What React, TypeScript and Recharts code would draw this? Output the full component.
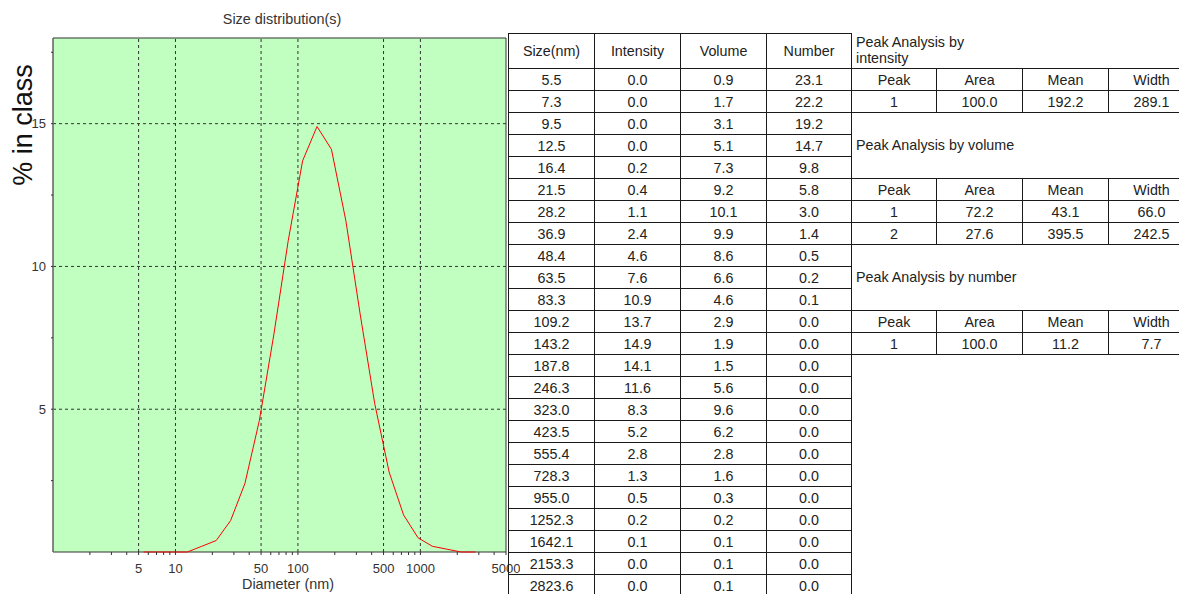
import React from 'react';
import {
  LineChart,
  Line,
  XAxis,
  YAxis,
  ReferenceArea,
  ReferenceLine,
} from 'recharts';

// size classes (nm) and the three distributions (%)
const sizes = [
  5.5, 7.3, 9.5, 12.5, 16.4, 21.5, 28.2, 36.9, 48.4, 63.5, 83.3, 109.2, 143.2,
  187.8, 246.3, 323.0, 423.5, 555.4, 728.3, 955.0, 1252.3, 1642.1, 2153.3, 2823.6,
];
const intensity = [
  0.0, 0.0, 0.0, 0.0, 0.2, 0.4, 1.1, 2.4, 4.6, 7.6, 10.9, 13.7, 14.9, 14.1, 11.6,
  8.3, 5.2, 2.8, 1.3, 0.5, 0.2, 0.1, 0.0, 0.0,
];
const volume = [
  0.9, 1.7, 3.1, 5.1, 7.3, 9.2, 10.1, 9.9, 8.6, 6.6, 4.6, 2.9, 1.9, 1.5, 5.6, 9.6,
  6.2, 2.8, 1.6, 0.3, 0.2, 0.1, 0.1, 0.1,
];
const numberDist = [
  23.1, 22.2, 19.2, 14.7, 9.8, 5.8, 3.0, 1.4, 0.5, 0.2, 0.1, 0.0, 0.0, 0.0, 0.0,
  0.0, 0.0, 0.0, 0.0, 0.0, 0.0, 0.0, 0.0, 0.0,
];

const tableHeaders = ['Size(nm)', 'Intensity', 'Volume', 'Number'];
const peakHeaders = ['Peak', 'Area', 'Mean', 'Width'];

const intensityPeaks = [[1, 100.0, 192.2, 289.1]];
const volumePeaks = [
  [1, 72.2, 43.1, 66.0],
  [2, 27.6, 395.5, 242.5],
];
const numberPeaks = [[1, 100.0, 11.2, 7.7]];

const xMajorTicks = [5, 10, 50, 100, 500, 1000, 5000];
const xMinorTicks = [
  2, 3, 4, 6, 7, 8, 9, 20, 30, 40, 60, 70, 80, 90, 200, 300, 400, 600, 700, 800,
  900, 2000, 3000, 4000,
];
const xGridLines = [5, 10, 50, 100, 500, 1000];
const yTicks = [2.5, 5, 7.5, 10, 12.5, 15, 17.5];
const yGridLines = [5, 10, 15];

const chartData = sizes.map((s, i) => ({ size: s, value: intensity[i] }));
const xTicks = [...xMajorTicks, ...xMinorTicks].sort((a, b) => a - b);

const FONT = '"Liberation Sans", Arial, sans-serif';
const TEXT = '#222';
const BORDER = '#1a1a1a';
const TABLE_FS = 14.3;

// table geometry
const colX = [508, 594, 680, 766, 851];
const peakColX = [851, 936, 1022, 1108, 1194];
const headTop = 33;
const headH = 35;
const rowH = 22;
const rowTop = (i: number) => headTop + headH + rowH * i;

function Cell({
  x,
  y,
  w,
  h,
  children,
}: {
  x: number;
  y: number;
  w: number;
  h: number;
  children?: React.ReactNode;
}) {
  return (
    <div
      style={{
        position: 'absolute',
        left: x,
        top: y,
        width: w + 1,
        height: h + 1,
        boxSizing: 'border-box',
        border: `1px solid ${BORDER}`,
        display: 'flex',
        alignItems: 'center',
        justifyContent: 'center',
        fontSize: TABLE_FS,
        color: TEXT,
      }}
    >
      {children}
    </div>
  );
}

function PeakTable({ top, rows }: { top: number; rows: number[][] }) {
  const cells: React.ReactNode[] = [];
  peakHeaders.forEach((h, c) =>
    cells.push(
      <Cell
        key={`h${c}`}
        x={peakColX[c]}
        y={rowTop(top)}
        w={peakColX[c + 1] - peakColX[c]}
        h={rowH}
      >
        {h}
      </Cell>,
    ),
  );
  rows.forEach((r, ri) =>
    r.forEach((v, c) =>
      cells.push(
        <Cell
          key={`r${ri}c${c}`}
          x={peakColX[c]}
          y={rowTop(top + 1 + ri)}
          w={peakColX[c + 1] - peakColX[c]}
          h={rowH}
        >
          {c === 0 ? String(v) : v.toFixed(1)}
        </Cell>,
      ),
    ),
  );
  return <>{cells}</>;
}

function Caption({ y, children }: { y: number; children: React.ReactNode }) {
  return (
    <div
      style={{
        position: 'absolute',
        left: 856,
        top: y,
        height: rowH,
        display: 'flex',
        alignItems: 'center',
        fontSize: TABLE_FS,
        color: TEXT,
        whiteSpace: 'nowrap',
      }}
    >
      {children}
    </div>
  );
}

export default function App() {
  const columns = [sizes, intensity, volume, numberDist];
  return (
    <div
      style={{
        position: 'absolute',
        left: 0,
        top: 0,
        width: 1179,
        height: 594,
        overflow: 'hidden',
        background: '#fff',
        fontFamily: FONT,
      }}
    >
      <div
        style={{
          position: 'absolute',
          left: 180,
          top: 11,
          width: 204,
          textAlign: 'center',
          fontSize: 14.4,
          color: '#333',
        }}
      >
        Size distribution(s)
      </div>
      <div
        style={{
          position: 'absolute',
          left: 186,
          top: 576,
          width: 204,
          textAlign: 'center',
          fontSize: 14.4,
          color: '#333',
        }}
      >
        Diameter (nm)
      </div>

      <div style={{ position: 'absolute', left: 0, top: 0 }}>
        <LineChart
          width={520}
          height={594}
          data={chartData}
          margin={{ top: 38, right: 14, bottom: 0, left: 0 }}
          style={{ overflow: 'visible' }}
        >
          <XAxis
            dataKey="size"
            type="number"
            scale="log"
            domain={[1, 5000]}
            ticks={xTicks}
            interval={0}
            height={42}
            tickSize={3}
            tickMargin={9}
            tickFormatter={(v: number) =>
              xMajorTicks.includes(v) ? String(v) : ''
            }
            tick={{ fontSize: 13, fill: '#333', fontFamily: FONT }}
            axisLine={false}
            tickLine={{ stroke: '#333' }}
          />
          <YAxis
            type="number"
            domain={[0, 18]}
            ticks={yTicks}
            interval={0}
            width={53}
            tickSize={2}
            tickMargin={5}
            tickFormatter={(v: number) => (v % 5 === 0 ? String(v) : '')}
            tick={{ fontSize: 13, fill: '#333', fontFamily: FONT }}
            axisLine={{ stroke: '#777' }}
            tickLine={{ stroke: '#333' }}
          />
          <ReferenceArea
            x1={1}
            x2={5000}
            y1={0}
            y2={18}
            fill="#c0ffc0"
            fillOpacity={1}
            stroke="#333"
            strokeWidth={1}
          />
          {xGridLines.map((v) => (
            <ReferenceLine
              key={`x${v}`}
              x={v}
              stroke="#333"
              strokeDasharray="3 3"
            />
          ))}
          {yGridLines.map((v) => (
            <ReferenceLine
              key={`y${v}`}
              y={v}
              stroke="#333"
              strokeDasharray="3 3"
            />
          ))}
          <Line
            type="linear"
            dataKey="value"
            stroke="#ff0000"
            strokeWidth={1}
            dot={false}
            isAnimationActive={false}
          />
        </LineChart>
      </div>

      <div
        style={{
          position: 'absolute',
          left: 23,
          top: 125,
          transform: 'translate(-50%, -50%) rotate(-90deg)',
          fontSize: 27,
          color: '#111',
          whiteSpace: 'nowrap',
        }}
      >
        % in class
      </div>

      {/* size distribution table */}
      {tableHeaders.map((h, c) => (
        <Cell
          key={`th${c}`}
          x={colX[c]}
          y={headTop}
          w={colX[c + 1] - colX[c]}
          h={headH}
        >
          {h}
        </Cell>
      ))}
      {sizes.map((_, r) =>
        columns.map((col, c) => (
          <Cell
            key={`td${r}-${c}`}
            x={colX[c]}
            y={rowTop(r)}
            w={colX[c + 1] - colX[c]}
            h={rowH}
          >
            {col[r].toFixed(1)}
          </Cell>
        )),
      )}

      {/* peak analysis */}
      <div
        style={{
          position: 'absolute',
          left: 856,
          top: 34,
          width: 125,
          fontSize: TABLE_FS,
          lineHeight: '16px',
          color: TEXT,
        }}
      >
        Peak Analysis by intensity
      </div>
      <PeakTable top={0} rows={intensityPeaks} />
      <Caption y={rowTop(3)}>Peak Analysis by volume</Caption>
      <PeakTable top={5} rows={volumePeaks} />
      <Caption y={rowTop(9)}>Peak Analysis by number</Caption>
      <PeakTable top={11} rows={numberPeaks} />
    </div>
  );
}
